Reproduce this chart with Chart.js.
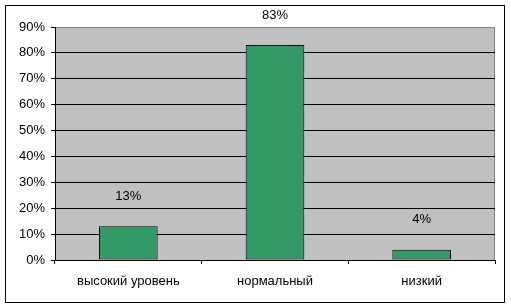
<!DOCTYPE html>
<html>
<head>
<meta charset="utf-8">
<script src="https://cdn.jsdelivr.net/npm/chart.js@4.4.1/dist/chart.umd.min.js"></script>
<style>
  html, body { margin: 0; padding: 0; background: #fff; }
  #wrap { width: 511px; height: 308px; }
</style>
</head>
<body>
<div id="wrap"><canvas id="c" width="511" height="308"></canvas></div>
<script>
'use strict';

const categories = ['высокий уровень', 'нормальный', 'низкий'];
const values     = [13, 83, 4];
const yTicks     = [0, 10, 20, 30, 40, 50, 60, 70, 80, 90];

const FONT = "'Liberation Sans', Arial, sans-serif";

// gray plot area, frame and outer border
const framePlugin = {
  id: 'frame',
  beforeDraw(chart) {
    const { ctx, chartArea: a } = chart;
    ctx.save();
    ctx.fillStyle = '#fff';
    ctx.fillRect(0, 0, chart.width, chart.height);
    ctx.fillStyle = '#C0C0C0';
    ctx.fillRect(a.left, a.top, a.right - a.left, a.bottom - a.top);
    ctx.strokeStyle = '#808080';
    ctx.lineWidth = 1;
    ctx.beginPath();
    ctx.moveTo(a.left, a.top + 0.5);
    ctx.lineTo(a.right - 0.5, a.top + 0.5);
    ctx.lineTo(a.right - 0.5, a.bottom);
    ctx.stroke();
    ctx.strokeStyle = '#000';
    ctx.strokeRect(5.5, 5.5, 499, 297);
    ctx.restore();
  }
};

// value labels above bars
const labelPlugin = {
  id: 'vlabels',
  afterDatasetsDraw(chart) {
    const { ctx } = chart;
    const meta = chart.getDatasetMeta(0);
    ctx.save();
    ctx.font = '13px ' + FONT;
    ctx.fillStyle = '#000';
    ctx.textAlign = 'center';
    ctx.textBaseline = 'middle';
    meta.data.forEach((bar, i) => {
      ctx.fillText(values[i] + '%', bar.x, bar.y - 30);
    });
    ctx.restore();
  }
};

new Chart(document.getElementById('c'), {
  type: 'bar',
  data: {
    labels: categories,
    datasets: [{
      data: values,
      backgroundColor: '#339966',
      borderColor: '#000',
      borderWidth: 1,
      borderSkipped: false,
      categoryPercentage: 1,
      barPercentage: 0.4
    }]
  },
  plugins: [framePlugin, labelPlugin],
  options: {
    responsive: false,
    animation: false,
    devicePixelRatio: 1,
    layout: { padding: { left: 0, top: 27, right: 16, bottom: 0 } },
    plugins: { legend: { display: false }, tooltip: { enabled: false } },
    scales: {
      x: {
        afterFit: s => { s.height = 48; },
        grid: { offset: true, drawOnChartArea: false, drawTicks: true, tickLength: 4, color: '#000' },
        border: { color: '#000' },
        ticks: { color: '#000', font: { family: FONT, size: 13 }, padding: 10, maxRotation: 0 }
      },
      y: {
        min: 0, max: 90,
        afterFit: s => { s.width = 55; },
        afterBuildTicks: s => { s.ticks = yTicks.map(v => ({ value: v })); },
        grid: {
          color: c => (c.tick && c.tick.value === 90 ? '#808080' : '#000'),
          tickColor: '#000',
          tickLength: 4
        },
        border: { color: '#000' },
        ticks: { color: '#000', font: { family: FONT, size: 13 }, padding: 6, callback: v => v + '%' }
      }
    }
  }
});
</script>
</body>
</html>
